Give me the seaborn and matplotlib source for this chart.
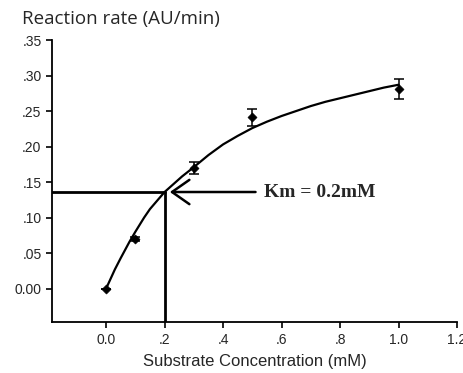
import matplotlib
matplotlib.use("Agg")
import matplotlib.pyplot as plt
import seaborn as sns
import pandas as pd

# measured data
substrate = [0.0, 0.1, 0.3, 0.5, 1.0]
rate = [0.0, 0.070, 0.170, 0.241, 0.281]
rate_err = [0.0, 0.003, 0.008, 0.012, 0.014]

# fitted curve
curve_x = [0.0, 0.03, 0.05, 0.08, 0.1, 0.13, 0.15, 0.2, 0.26, 0.3, 0.35, 0.4, 0.45,
           0.5, 0.55, 0.6, 0.65, 0.7, 0.75, 0.8, 0.85, 0.9, 0.95, 1.0]
curve_y = [0.0, 0.027, 0.043, 0.066, 0.080, 0.100, 0.112, 0.136, 0.158, 0.171, 0.188,
           0.203, 0.215, 0.226, 0.235, 0.243, 0.250, 0.257, 0.263, 0.268, 0.273,
           0.278, 0.283, 0.287]

km = 0.2
half_vmax = 0.136

x_ticks = [0.0, 0.2, 0.4, 0.6, 0.8, 1.0, 1.2]
x_labels = ["0.0", ".2", ".4", ".6", ".8", "1.0", "1.2"]
y_ticks = [0.0, 0.05, 0.10, 0.15, 0.20, 0.25, 0.30, 0.35]
y_labels = ["0.00", ".05", ".10", ".15", ".20", ".25", ".30", ".35"]

sns.set_style("ticks")
plt.rcParams['font.family'] = ['Liberation Sans', 'DejaVu Sans']

fig = plt.figure(figsize=(4.64, 3.73), dpi=100)
ax = fig.add_axes([52/464, 1-322/373, (457-52)/464, (322-40)/373])

df_curve = pd.DataFrame({"x": curve_x, "y": curve_y})
df_pts = pd.DataFrame({"x": substrate, "y": rate})

sns.lineplot(data=df_curve, x="x", y="y", ax=ax, color="black", linewidth=1.6, sort=True)
ax.errorbar(substrate, rate, yerr=rate_err, fmt="none", ecolor="black",
            elinewidth=1.1, capsize=3.5, capthick=1.1)
sns.scatterplot(data=df_pts, x="x", y="y", ax=ax, marker="D", s=22, color="black",
                edgecolor="black", zorder=5)

xmin, xmax = -0.185, 1.2
ymin, ymax = -0.047, 0.35
ax.set_xlim(xmin, xmax)
ax.set_ylim(ymin, ymax)

# Km guide lines
ax.plot([xmin, km], [half_vmax, half_vmax], color="black", linewidth=2)
ax.plot([km, km], [ymin, half_vmax], color="black", linewidth=2)
ax.annotate("", xy=(0.218, half_vmax), xytext=(0.511, half_vmax),
            arrowprops=dict(arrowstyle="->,head_length=0.5,head_width=0.35",
                            color="black", lw=1.8, mutation_scale=25,
                            shrinkA=0, shrinkB=0))
ax.text(0.539, half_vmax, "Km = 0.2mM", fontsize=14, fontweight="bold",
        family=["Liberation Serif", "DejaVu Serif"], va="center", ha="left")

ax.set_xticks(x_ticks)
ax.set_xticklabels(x_labels)
ax.set_yticks(y_ticks)
ax.set_yticklabels(y_labels)
ax.tick_params(axis="both", labelsize=10, length=4, width=1.2, color="black", direction="out")
ax.tick_params(axis="x", pad=4)

sns.despine(ax=ax)
for s in ["left", "bottom"]:
    ax.spines[s].set_linewidth(1.3)
    ax.spines[s].set_color("black")

ax.set_xlabel("Substrate Concentration (mM)", fontsize=12, labelpad=5)
ax.set_ylabel("")
fig.text(22/464, 1-19/373, "Reaction rate (AU/min)", fontsize=13.5,
         family=["Open Sans", "DejaVu Sans"], va="center", ha="left")

fig.savefig("out.png", dpi=100)
